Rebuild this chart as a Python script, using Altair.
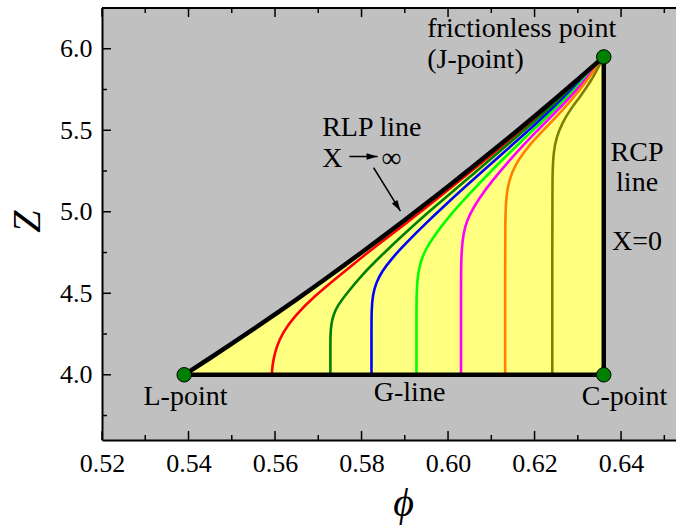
import altair as alt
import pandas as pd

# ---- plot frame ----
X_MIN, X_MAX = 0.52, 0.6527
Y_MIN, Y_MAX = 3.6, 6.25
W, H = 574, 432
SERIF = "'Liberation Serif', 'Times New Roman', 'DejaVu Serif', serif"

# ---- tick values ----
X_MAJOR = [0.52, 0.54, 0.56, 0.58, 0.60, 0.62, 0.64]
X_MINOR = [0.53, 0.55, 0.57, 0.59, 0.61, 0.63, 0.65]
Y_MAJOR = [4.0, 4.5, 5.0, 5.5, 6.0]
Y_MINOR = [3.75, 4.25, 4.75, 5.25, 5.75]

# ---- boundary of the jammed region ----
RLP_PHI = [0.539, 0.545, 0.55, 0.555, 0.56, 0.565, 0.57, 0.575, 0.58, 0.585,
           0.59, 0.595, 0.60, 0.605, 0.61, 0.615, 0.62, 0.625, 0.63, 0.636]
RLP_Z = [4.000, 4.103, 4.191, 4.280, 4.371, 4.463, 4.557, 4.653, 4.750, 4.849,
         4.950, 5.052, 5.155, 5.261, 5.368, 5.476, 5.586, 5.698, 5.812, 5.950]
G_PHI = [0.539, 0.636]
G_Z = [4.0, 4.0]
RCP_PHI = [0.636, 0.636]
RCP_Z = [4.0, 5.95]

# ---- special points ----
PT_PHI = [0.539, 0.636, 0.636]
PT_Z = [4.0, 4.0, 5.95]

# ---- compression curves ----
RED_PHI = [0.5593, 0.5593, 0.5596, 0.5603, 0.5618, 0.5645, 0.569, 0.5745, 0.58, 0.585,
           0.59, 0.595, 0.60, 0.605, 0.61, 0.615, 0.62, 0.625, 0.63, 0.636]
RED_Z = [4.0, 4.03, 4.09, 4.17, 4.26, 4.36, 4.48, 4.60, 4.72, 4.822,
         4.924, 5.028, 5.133, 5.24, 5.349, 5.458, 5.57, 5.684, 5.80, 5.95]
DKGREEN_PHI = [0.5728, 0.5728, 0.5728, 0.5730, 0.5735, 0.5746, 0.5766, 0.58, 0.5845,
               0.59, 0.595, 0.60, 0.605, 0.61, 0.615, 0.62, 0.625, 0.63, 0.636]
DKGREEN_Z = [4.0, 4.14, 4.25, 4.31, 4.37, 4.43, 4.50, 4.61, 4.73,
             4.868, 4.988, 5.10, 5.213, 5.326, 5.44, 5.554, 5.671, 5.792, 5.95]
BLUE_PHI = [0.5823, 0.5823, 0.5823, 0.5826, 0.5833, 0.5847, 0.5872, 0.59, 0.595,
            0.60, 0.605, 0.61, 0.615, 0.62, 0.625, 0.63, 0.636]
BLUE_Z = [4.0, 4.25, 4.40, 4.49, 4.56, 4.635, 4.72, 4.80, 4.933,
          5.058, 5.178, 5.296, 5.414, 5.532, 5.652, 5.78, 5.95]
LIME_PHI = [0.5927, 0.5927, 0.5927, 0.5930, 0.5936, 0.5948, 0.597, 0.60, 0.605,
            0.61, 0.615, 0.62, 0.625, 0.63, 0.636]
LIME_Z = [4.0, 4.30, 4.50, 4.61, 4.69, 4.77, 4.86, 4.965, 5.112,
          5.252, 5.382, 5.51, 5.636, 5.768, 5.95]
MAGENTA_PHI = [0.603, 0.603, 0.603, 0.6033, 0.6039, 0.605, 0.607, 0.61, 0.615,
               0.62, 0.625, 0.63, 0.636]
MAGENTA_Z = [4.0, 4.45, 4.70, 4.82, 4.91, 4.985, 5.075, 5.185, 5.34,
             5.482, 5.614, 5.752, 5.95]
ORANGE_PHI = [0.6132, 0.6132, 0.6132, 0.6135, 0.6142, 0.6155, 0.6175, 0.62, 0.625,
              0.63, 0.636]
ORANGE_Z = [4.0, 4.60, 4.97, 5.11, 5.20, 5.285, 5.365, 5.445, 5.58, 5.726, 5.95]
OLIVE_PHI = [0.6241, 0.6241, 0.6241, 0.6244, 0.6251, 0.6264, 0.6282, 0.6305, 0.6333, 0.636]
OLIVE_Z = [4.0, 4.80, 5.24, 5.37, 5.46, 5.545, 5.625, 5.705, 5.81, 5.95]

SERIES = ["red", "darkgreen", "blue", "lime", "magenta", "orange", "olive"]
COLORS = ["#FF0000", "#008000", "#0000FF", "#00FF00", "#FF00FF", "#FF8000", "#808000"]
CURVES = [(RED_PHI, RED_Z), (DKGREEN_PHI, DKGREEN_Z), (BLUE_PHI, BLUE_Z),
          (LIME_PHI, LIME_Z), (MAGENTA_PHI, MAGENTA_Z), (ORANGE_PHI, ORANGE_Z),
          (OLIVE_PHI, OLIVE_Z)]

# ---- annotations ----
LEFT_TXT = ["frictionless point", "(J-point)", "RLP line", "X", "\u221e"]
LEFT_PHI = [0.5952, 0.5952, 0.5709, 0.5709, 0.5846]
LEFT_Z = [6.075, 5.885, 5.462, 5.272, 5.272]
MID_TXT = ["RCP", "line", "X=0", "L-point", "G-line", "C-point"]
MID_PHI = [0.6437, 0.6437, 0.6437, 0.5393, 0.5911, 0.6408]
MID_Z = [5.314, 5.130, 4.768, 3.812, 3.840, 3.812]

# arrows: start, end and heading of the head (degrees, clockwise)
ARR_PHI0 = [0.5772, 0.5828]
ARR_Z0 = [5.339, 5.270]
ARR_PHI1 = [0.5837, 0.5890]
ARR_Z1 = [5.339, 5.004]
ARR_ANGLE = [0, 58]

# ---- shared scales / axes ----
XS = alt.Scale(domain=[X_MIN, X_MAX], nice=False, zero=False)
YS = alt.Scale(domain=[Y_MIN, Y_MAX], nice=False, zero=False)
XAX = alt.Axis(values=X_MAJOR, format=".2f", ticks=False, grid=False,
               labelFlush=False, labelOverlap=False,
               domain=True, domainColor="black", domainWidth=2,
               labelFont=SERIF, labelFontSize=26, labelColor="black", labelPadding=10,
               title="\u03d5", titleFont=SERIF, titleFontSize=40, titleFontStyle="italic",
               titleFontWeight="normal", titleColor="black",
               titleX=301, titleY=63, titleAlign="center", titleBaseline="middle")
YAX = alt.Axis(values=Y_MAJOR, format=".1f", ticks=False, grid=False,
               labelFlush=False, labelOverlap=False,
               domain=True, domainColor="black", domainWidth=2,
               labelFont=SERIF, labelFontSize=26, labelColor="black", labelPadding=10,
               title="Z", titleFont=SERIF, titleFontSize=40, titleFontStyle="italic",
               titleFontWeight="normal", titleColor="black", titleAngle=270,
               titleX=-75, titleY=213, titleAlign="center", titleBaseline="middle")


def X(field):
    return alt.X(f"{field}:Q", scale=XS, axis=XAX)


def Y(field):
    return alt.Y(f"{field}:Q", scale=YS, axis=YAX)


rlp = pd.DataFrame({"phi": RLP_PHI, "Z": RLP_Z, "base": [4.0] * len(RLP_PHI),
                    "i": range(len(RLP_PHI))})

area = alt.Chart(rlp).mark_area(color="#FFFF80", opacity=1, interpolate="monotone").encode(
    x=X("phi"), y=Y("Z"), y2="base:Q")

rows = []
for name, (ph, zz) in zip(SERIES, CURVES):
    for k, (p, z) in enumerate(zip(ph, zz)):
        rows.append({"series": name, "i": k, "phi": p, "Z": z})
curves = alt.Chart(pd.DataFrame(rows)).mark_line(
    interpolate="basis", strokeWidth=2.6).encode(
    x=X("phi"), y=Y("Z"),
    color=alt.Color("series:N", scale=alt.Scale(domain=SERIES, range=COLORS), legend=None),
    detail="series:N", order="i:Q")

rlp_line = alt.Chart(rlp).mark_line(color="black", strokeWidth=4.5,
                                    interpolate="monotone").encode(
    x=X("phi"), y=Y("Z"), order="i:Q")
g_line = alt.Chart(pd.DataFrame({"phi": G_PHI, "Z": G_Z})).mark_line(
    color="black", strokeWidth=4.5).encode(x=X("phi"), y=Y("Z"))
rcp_line = alt.Chart(pd.DataFrame({"phi": RCP_PHI, "Z": RCP_Z})).mark_line(
    color="black", strokeWidth=4.5).encode(x=X("phi"), y=Y("Z"))

points = alt.Chart(pd.DataFrame({"phi": PT_PHI, "Z": PT_Z})).mark_point(
    shape="circle", filled=True, fill="#008000", stroke="black", strokeWidth=1,
    size=210, opacity=1).encode(x=X("phi"), y=Y("Z"))

txt_left = alt.Chart(pd.DataFrame({"phi": LEFT_PHI, "Z": LEFT_Z, "t": LEFT_TXT})).mark_text(
    align="left", baseline="alphabetic", font=SERIF, fontSize=28, color="black").encode(
    x=X("phi"), y=Y("Z"), text="t:N")
txt_mid = alt.Chart(pd.DataFrame({"phi": MID_PHI, "Z": MID_Z, "t": MID_TXT})).mark_text(
    align="center", baseline="alphabetic", font=SERIF, fontSize=28, color="black").encode(
    x=X("phi"), y=Y("Z"), text="t:N")

arr = pd.DataFrame({"p0": ARR_PHI0, "z0": ARR_Z0, "p1": ARR_PHI1, "z1": ARR_Z1,
                    "ang": ARR_ANGLE})
arrow_shaft = alt.Chart(arr).mark_rule(color="black", strokeWidth=1.5).encode(
    x=X("p0"), y=Y("z0"), x2="p1:Q", y2="z1:Q")
arrow_head = alt.Chart(arr).mark_point(
    shape="M0,0 L-1,-0.3 L-1,0.3 Z", filled=True, fill="black", strokeWidth=0,
    size=484, opacity=1).encode(
    x=X("p1"), y=Y("z1"), angle=alt.Angle("ang:Q", scale=None))

# inward tick marks on bottom, top and left edges
xmaj = pd.DataFrame({"v": X_MAJOR})
xmin = pd.DataFrame({"v": X_MINOR})
ymaj = pd.DataFrame({"v": Y_MAJOR})
ymin = pd.DataFrame({"v": Y_MINOR})
tick_style = dict(color="black", strokeWidth=1.5)
ticks = [
    alt.Chart(xmaj).mark_rule(**tick_style).encode(x=X("v"), y=alt.value(H), y2=alt.value(H - 9)),
    alt.Chart(xmin).mark_rule(**tick_style).encode(x=X("v"), y=alt.value(H), y2=alt.value(H - 5)),
    alt.Chart(xmaj).mark_rule(**tick_style).encode(x=X("v"), y=alt.value(0), y2=alt.value(9)),
    alt.Chart(xmin).mark_rule(**tick_style).encode(x=X("v"), y=alt.value(0), y2=alt.value(5)),
    alt.Chart(ymaj).mark_rule(**tick_style).encode(y=Y("v"), x=alt.value(0), x2=alt.value(9)),
    alt.Chart(ymin).mark_rule(**tick_style).encode(y=Y("v"), x=alt.value(0), x2=alt.value(5)),
]
top_border = alt.Chart(pd.DataFrame({"a": [0]})).mark_rule(color="black", strokeWidth=2).encode(
    x=alt.value(0), x2=alt.value(W), y=alt.value(0))

chart = alt.layer(
    area, curves, rlp_line, g_line, rcp_line, points,
    arrow_shaft, arrow_head, txt_left, txt_mid, top_border, *ticks
).properties(
    width=W, height=H,
    autosize=alt.AutoSizeParams(type="none"),
    padding={"left": 102, "top": 8, "right": 0, "bottom": 85},
    background="white",
).configure_view(fill="#C0C0C0", stroke="transparent")

chart.save("out.html", embed_options={"renderer": "svg", "actions": False})
